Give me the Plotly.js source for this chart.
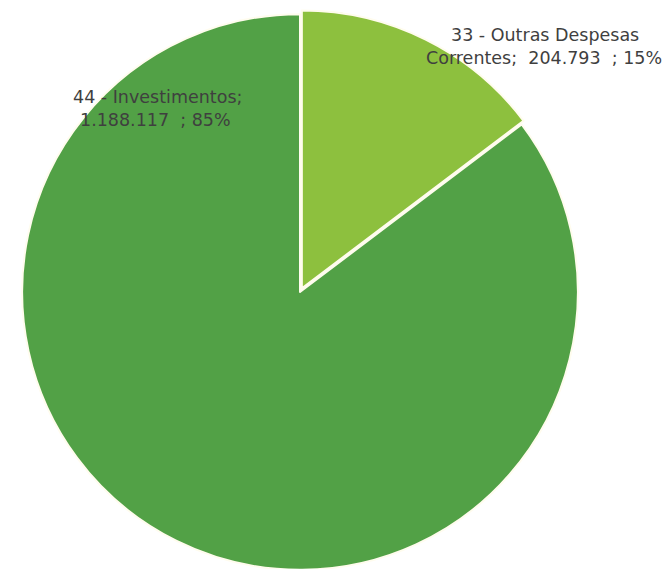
<!DOCTYPE html>
<html>
<head>
<meta charset="utf-8">
<script src="https://cdn.plot.ly/plotly-3.0.1.min.js"></script>
<style>
html,body{margin:0;padding:0;overflow:hidden;background:#fff;}
#chart{width:669px;height:600px;}
</style>
</head>
<body>
<div id="chart"></div>
<script>
// Data
const categories = ["33 - Outras Despesas Correntes", "44 - Investimentos"];
const values = [204793, 1188117];
const valueLabels = ["204.793", "1.188.117"];
const percentLabels = ["15%", "85%"];
const colors = ["#8DC03E", "#52A146"];

const W = 669, H = 600;
function px(x){ return x / W; }
function py(y){ return (H - y) / H; }

// Pie geometry
const cx = 300, cy = 292, R = 282;
const trace = {
  type: "pie",
  values: values,
  labels: categories,
  sort: false,
  direction: "clockwise",
  rotation: 0,
  pull: [0.015, 0],
  marker: { colors: colors, line: { color: "#FFFCEE", width: 2 } },
  textinfo: "none",
  hoverinfo: "label+value+percent",
  showlegend: false,
  domain: { x: [px(cx - R), px(cx + R)], y: [py(cy + R), py(cy - R)] }
};

const NB = "\u00a0";
const font = { family: "DejaVu Sans, Verdana, sans-serif", size: 17.5, color: "#3F3F3F" };
const annotations = [
  { text: "33 - Outras Despesas", x: px(545), y: py(35) },
  { text: "Correntes;" + NB + " " + valueLabels[0] + NB + " ; " + percentLabels[0], x: px(544), y: py(58) },
  { text: "44 - Investimentos;", x: px(157), y: py(97) },
  { text: valueLabels[1] + NB + " ; " + percentLabels[1], x: px(155), y: py(120) }
].map(a => Object.assign({
  xref: "paper", yref: "paper", xanchor: "center", yanchor: "middle",
  showarrow: false, font: font
}, a));

const layout = {
  width: W, height: H,
  margin: { l: 0, r: 0, t: 0, b: 0 },
  paper_bgcolor: "#FFFFFF",
  plot_bgcolor: "#FFFFFF",
  annotations: annotations
};

Plotly.newPlot("chart", [trace], layout, { displayModeBar: false, staticPlot: true });
</script>
</body>
</html>
